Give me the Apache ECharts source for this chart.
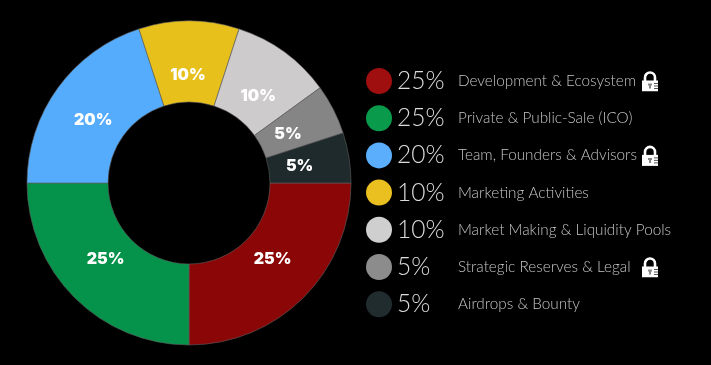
<!DOCTYPE html>
<html>
<head>
<meta charset="utf-8">
<style>
  html, body { margin: 0; padding: 0; background: #000; }
  #chart { width: 711px; height: 365px; }
</style>
<script src="https://cdn.jsdelivr.net/npm/echarts@6/dist/echarts.min.js"></script>
</head>
<body>
<div id="chart"></div>
<script>
var names = ['Development & Ecosystem', 'Private & Public-Sale (ICO)', 'Team, Founders & Advisors',
  'Marketing Activities', 'Market Making & Liquidity Pools', 'Strategic Reserves & Legal', 'Airdrops & Bounty'];
var values = [25, 25, 20, 10, 10, 5, 5];
var locked = [true, false, true, false, false, true, false];
var sliceColors = ['#8b0707', '#05924a', '#55abfc', '#e8c01c', '#cdcbcc', '#858585', '#1f2a2c'];
var legendColors = ['#a00f0f', '#0a9a4c', '#5aaefc', '#eabf20', '#d0cfd0', '#8c8c8c', '#212c2e'];
// 百分比文字相对默认位置的微调
var labelNudges = [[5, -2], [-5, -2], [-6, 2], [-1, 3], [4, 3], [0, 2], [1, 1]];

// 锁图标
var lockSvg = '<svg xmlns="http://www.w3.org/2000/svg" width="16" height="21" viewBox="0 0 16 21">' +
  '<path d="M3 11V7a5 5 0 0 1 10 0v4" fill="none" stroke="#fff" stroke-width="2.6"/>' +
  '<rect x="0" y="10" width="16" height="11" fill="#fff"/>' +
  '<path d="M6 13h4v2h-1v3h-2v-3h-1z" fill="#888"/>' +
  '<path d="M12 13h4M12 15.5h4M12 18h4" stroke="#555" stroke-width="1"/></svg>';
var lockImage = 'data:image/svg+xml;charset=utf-8,' + encodeURIComponent(lockSvg);

var pieData = names.map(function (name, i) {
  return { name: name, value: values[i], itemStyle: { color: sliceColors[i] } };
});

var chart = echarts.init(document.getElementById('chart'));
chart.setOption({
  backgroundColor: '#000',
  animation: false,
  legend: {
    orient: 'vertical',
    left: 366,
    top: 66,
    padding: 0,
    itemGap: 7.2,
    itemWidth: 26,
    itemHeight: 26,
    icon: 'circle',
    selectedMode: false,
    data: names.map(function (name, i) {
      return { name: name, itemStyle: { color: legendColors[i], borderWidth: 0 } };
    }),
    formatter: function (name) {
      var i = names.indexOf(name);
      var text = '{pct|' + values[i] + '%}{name|' + name + '}';
      return locked[i] ? text + '{lock|}' : text;
    },
    textStyle: {
      rich: {
        pct: { width: 61, height: 30, lineHeight: 30, fontFamily: 'Lato', fontWeight: 300, fontSize: 24.5, color: '#dcdcdc' },
        name: { width: 184, height: 30, lineHeight: 30, fontFamily: 'Lato', fontWeight: 300, fontSize: 15.3, color: '#c4c4c4' },
        lock: { width: 16, height: 21, backgroundColor: { image: lockImage } }
      }
    }
  },
  series: [{
    type: 'pie',
    center: [189, 183],
    radius: [81, 162],
    startAngle: 0,
    silent: true,
    label: { show: false },
    labelLine: { show: false },
    itemStyle: { borderColor: '#5f5f5f', borderWidth: 0.6 },
    data: pieData
  }, {
    // 只显示百分比文字，标签落在环的偏内位置
    type: 'pie',
    center: [189, 183],
    radius: [81, 135],
    startAngle: 0,
    silent: true,
    itemStyle: { color: 'transparent', borderWidth: 0 },
    label: {
      show: true,
      position: 'inside',
      formatter: '{c}%',
      color: '#fff',
      fontFamily: 'Inter',
      fontWeight: 900,
      fontSize: 16
    },
    labelLine: { show: false },
    data: names.map(function (name, i) {
      return {
        name: name,
        value: values[i],
        itemStyle: { color: 'transparent' },
        label: { offset: labelNudges[i] }
      };
    })
  }]
});
</script>
</body>
</html>
